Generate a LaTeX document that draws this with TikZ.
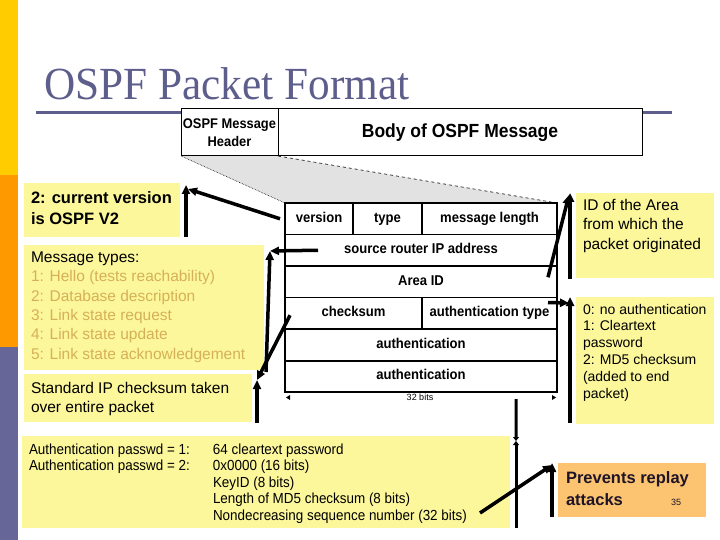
\documentclass[tikz,border=0pt]{standalone}
\usepackage{fontspec}
\setmainfont{Liberation Sans}
\newfontfamily\titlefont{Liberation Serif}
\newfontfamily\narrowfont{Liberation Sans}[FakeStretch=0.92]
\usetikzlibrary{arrows.meta,calc}
\pgfdeclarelayer{bg}
\pgfsetlayers{bg,main}
\definecolor{barY}{RGB}{255,204,0}
\definecolor{barO}{RGB}{255,153,0}
\definecolor{barP}{RGB}{102,102,153}
\definecolor{titlec}{RGB}{94,94,140}
\definecolor{noteY}{RGB}{252,247,155}
\definecolor{tanc}{RGB}{214,176,88}
\definecolor{noteO}{RGB}{252,196,112}
\definecolor{darkt}{RGB}{30,20,40}
\definecolor{trap}{RGB}{226,226,226}
% #1 height, #2 width, #3 top pad, #4 text
\newcommand\notecontent[4]{\parbox[c][#1][t]{#2}{\raggedright\vspace*{#3}#4}}
\begin{document}
\begin{tikzpicture}[x=1bp,y=-1bp,
  cell/.style={draw, line width=1.1bp, fill=white, anchor=north west,
    minimum height=31.5bp, inner sep=0, outer sep=0, text height=10.2bp, text depth=2.9bp,
    font=\narrowfont\fontsize{14.2bp}{16bp}\selectfont\bfseries},
  notebox/.style={fill=noteY, anchor=north west, inner xsep=7bp, inner ysep=0, outer sep=0},
  thickarr/.style={line width=3.5bp, -{Triangle[length=9bp,width=8bp]}},
  smallarr/.style={line width=3bp, -{Triangle[length=4bp,width=6bp]}},
]
\useasboundingbox (0,0) rectangle (720,540);
% side bar
\fill[barY] (0,0) rectangle (18,175);
\fill[barO] (0,175) rectangle (18,347);
\fill[barP] (0,347) rectangle (18,540);
% title
\node[anchor=base west, inner sep=0, text=titlec,
  font=\titlefont\fontsize{46bp}{50bp}\selectfont] (title) at (44,99.5) {\scalebox{0.94}[1]{OSPF Packet Format}};
\draw[titlec, line width=3bp] (36,113) -- (672,113);
% top box
\node[draw, line width=1bp, fill=white, anchor=north west, minimum width=97bp, minimum height=47bp,
  inner sep=0, outer sep=0, align=center, font=\narrowfont\fontsize{14bp}{18bp}\selectfont\bfseries] (hdr) at (181,109) {OSPF Message\\Header};
\node[draw, line width=1bp, fill=white, anchor=north west, minimum width=364bp, minimum height=47bp,
  inner sep=0, outer sep=0, font=\narrowfont\fontsize{19bp}{20bp}\selectfont\bfseries] (body) at (278,109) {Body of OSPF Message};
% packet table
\node[cell, minimum width=68bp] (version) at (285,203) {version};
\node[cell, minimum width=69bp] (type) at (353,203) {type};
\node[cell, minimum width=135bp] (mlen) at (422,203) {message length};
\node[cell, minimum width=272bp] (src) at (285,234.5) {source router IP address};
\node[cell, minimum width=272bp] (area) at (285,266) {Area ID};
\node[cell, minimum width=137bp] (cks) at (285,297.5) {checksum};
\node[cell, minimum width=135bp] (atype) at (422,297.5) {authentication type};
\node[cell, minimum width=272bp] (auth1) at (285,329) {authentication};
\node[cell, minimum width=272bp] (auth2) at (285,360.5) {authentication};
\draw[line width=2bp] (auth2.north west) -- (auth2.north east);
\node[inner sep=0, font=\fontsize{9bp}{10bp}\selectfont] (bits) at (420,397) {32 bits};
\fill (286,397.5) -- (290,395) -- (290,400) -- cycle;
\fill (556,397.5) -- (552,395) -- (552,400) -- cycle;
% zoom trapezoid
\begin{pgfonlayer}{bg}
\fill[trap] (hdr.south west) -- (hdr.south east) -- (mlen.north east) -- (version.north west) -- cycle;
\end{pgfonlayer}
\draw[densely dotted, line width=0.6bp] (hdr.south west) -- (version.north west);
\draw[dashed, line width=0.6bp] (hdr.south east) -- (mlen.north east);
% left notes
\node[notebox, minimum width=156bp, minimum height=54bp, font=\fontsize{16.5bp}{21bp}\selectfont\bfseries] (nver) at (24,183)
  {\notecontent{54bp}{142bp}{9bp}{2: current version\\is OSPF V2}};
\node[notebox, minimum width=240bp, minimum height=125bp, font=\fontsize{15.5bp}{19.3bp}\selectfont] (ntype) at (24,245)
  {\notecontent{125bp}{226bp}{7bp}{Message types:\\\color{tanc}1: Hello (tests reachability)\\2: Database description\\3: Link state request\\4: Link state update\\5: Link state acknowledgement}};
\node[notebox, minimum width=228bp, minimum height=48bp, font=\fontsize{15.5bp}{19bp}\selectfont] (ncks) at (24,374)
  {\notecontent{48bp}{214bp}{8bp}{Standard IP checksum taken\\over entire packet}};
\node[notebox, minimum width=488bp, minimum height=92bp, font=\narrowfont\fontsize{14.6bp}{16.6bp}\selectfont] (nauth) at (22,436)
  {\notecontent{92bp}{474bp}{7.5bp}{\makebox[184bp][l]{Authentication passwd = 1:}64 cleartext password\\
  \makebox[184bp][l]{Authentication passwd = 2:}0x0000 (16 bits)\\
  \hspace*{184bp}KeyID (8 bits)\\
  \hspace*{184bp}Length of MD5 checksum (8 bits)\\
  \hspace*{184bp}Nondecreasing sequence number (32 bits)}};
% right notes
\node[notebox, minimum width=138bp, minimum height=85bp, font=\fontsize{15.5bp}{19.5bp}\selectfont] (narea) at (576,193)
  {\notecontent{85bp}{124bp}{6bp}{ID of the Area\\from which the\\packet originated}};
\node[notebox, minimum width=138bp, minimum height=127bp, font=\fontsize{14bp}{16.8bp}\selectfont] (natype) at (576,297)
  {\notecontent{127bp}{124bp}{7bp}{0: no authentication\\1: Cleartext\\password\\2: MD5 checksum\\(added to end\\packet)}};
\node[notebox, fill=noteO, minimum width=148bp, minimum height=54bp, text=darkt, font=\fontsize{16.5bp}{22bp}\selectfont\bfseries] (nreplay) at (558,463)
  {\notecontent{54bp}{132bp}{9bp}{Prevents replay\\attacks}};
\node[inner sep=0, text=darkt, font=\fontsize{9bp}{10bp}\selectfont] (pagenum) at (676,502) {35};
% connectors
\coordinate (k1) at (186,185);
\coordinate (k1b) at (186,237);
\draw[thickarr] ($(version.west)+(-5,0)$) -- (188,189);
\draw[thickarr] (k1b) -- (k1);
\coordinate (k2) at (270,251);
\coordinate (k2b) at (266,372);
\draw[thickarr] ($(src.west)+(33,0)$) -- (k2);
\draw[thickarr] (k2b) -- (k2);
\coordinate (k3) at (257,380);
\coordinate (k3b) at (257,423);
\draw[thickarr] ($(cks.west)+(5,2)$) -- (k3);
\draw[thickarr] (k3b) -- (k3);
\coordinate (k4) at (569,195);
\coordinate (k4b) at (570,279);
\draw[thickarr] ($(area.east)+(-9,-4.5)$) -- (k4);
\draw[thickarr] (k4b) -- (570,193);
\coordinate (k5) at (569,303);
\coordinate (k5b) at (570,423);
\draw[thickarr] ($(atype.north east)+(-9,5)$) -- (k5);
\draw[thickarr] (k5b) -- (570,297);
\coordinate (k6) at (516,441);
\coordinate (k6b) at (516,528);
\draw[smallarr] ($(auth2.south east)+(-41,7)$) -- (k6);
\draw[smallarr] (k6b) -- (k6);
\coordinate (k7) at (552,465);
\coordinate (k7b) at (552,517);
\draw[thickarr] ($(nauth.south east)+(-30,-15)$) -- (k7);
\draw[thickarr] (k7b) -- (552,463);
\end{tikzpicture}
\end{document}
